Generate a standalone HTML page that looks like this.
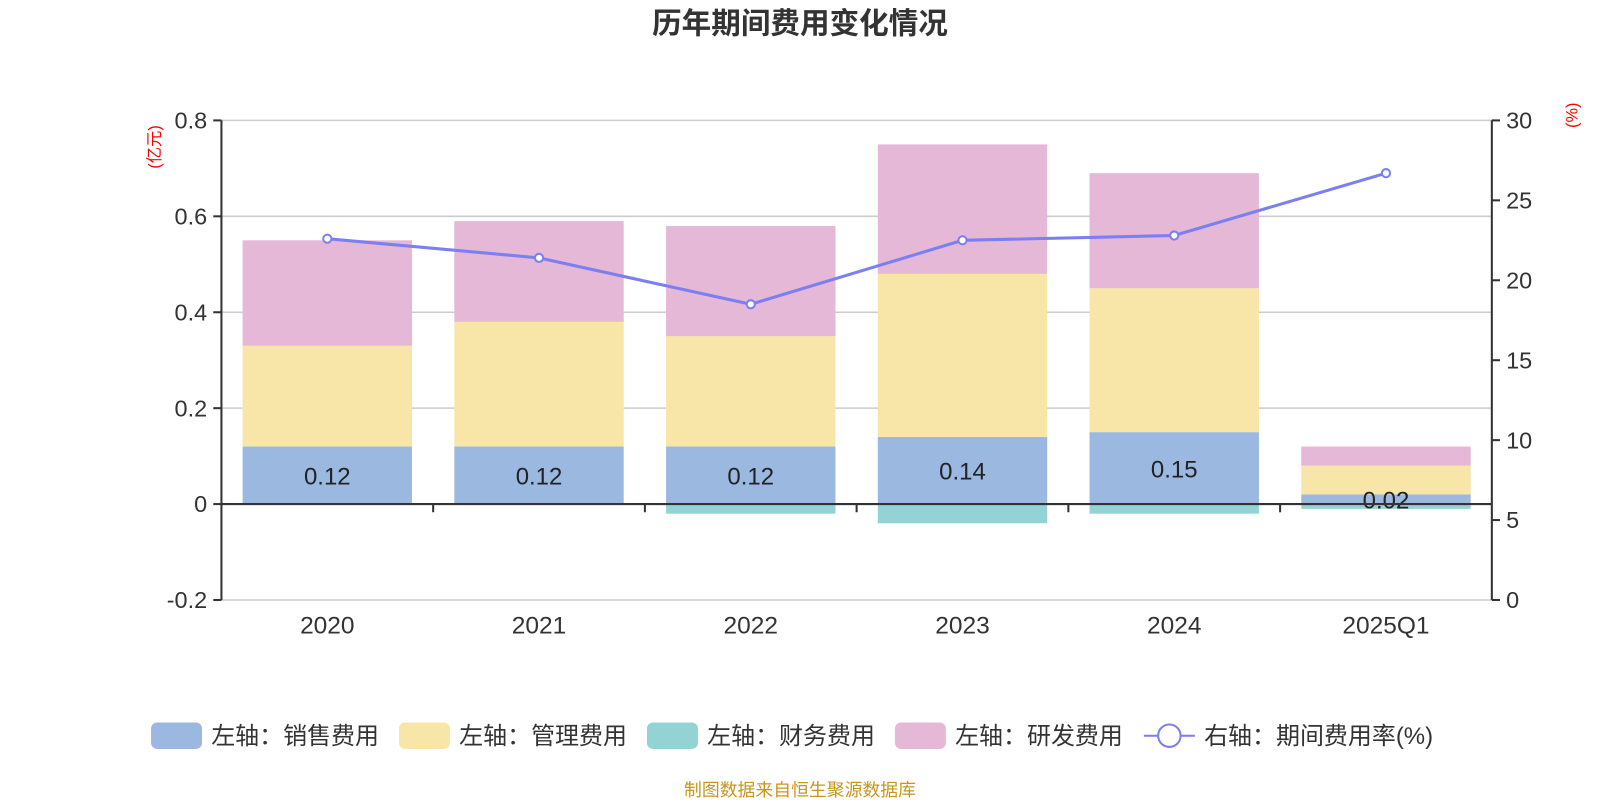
<!DOCTYPE html>
<html><head><meta charset="utf-8"><style>
body{margin:0;background:#fff;}
svg text{font-family:"Liberation Sans","Noto Sans CJK SC",sans-serif;}
</style></head><body>
<svg id="c" width="1600" height="800" viewBox="0 0 1568 784">
<text x="784" y="33" text-anchor="middle" font-size="29" font-weight="bold" fill="#333">历年期间费用变化情况</text>
<text transform="translate(157,144) rotate(-90)" text-anchor="middle" font-size="16" fill="#f00">(亿元)</text>
<text transform="translate(1546,113) rotate(-90)" text-anchor="middle" font-size="16" fill="#f00">(%)</text>
<g id="grid"></g><g id="bars"></g><g id="axes"></g><g id="line"></g>
<g id="legend" font-size="23.5" fill="#333">
<rect x="148" y="708" width="50" height="26" rx="6" fill="#9bb8e0"/>
<text x="207" y="729">左轴：销售费用</text>
<rect x="391" y="708" width="50" height="26" rx="6" fill="#f8e6a8"/>
<text x="450" y="729">左轴：管理费用</text>
<rect x="634" y="708" width="50" height="26" rx="6" fill="#94d3d3"/>
<text x="693" y="729">左轴：财务费用</text>
<rect x="877" y="708" width="50" height="26" rx="6" fill="#e6b8d8"/>
<text x="936" y="729">左轴：研发费用</text>
<line x1="1121" y1="721" x2="1171" y2="721" stroke="#7b7ff0" stroke-width="2"/>
<circle cx="1146" cy="721" r="11" fill="#fff" stroke="#7b7ff0" stroke-width="2"/>
<text x="1180" y="729">右轴：期间费用率(%)</text>
</g>
<text x="784" y="780" text-anchor="middle" font-size="17.5" fill="#c8961e">制图数据来自恒生聚源数据库</text>
</svg>
<script>
const categories=["2020","2021","2022","2023","2024","2025Q1"];
const sales=[0.12,0.12,0.12,0.14,0.15,0.02];
const admin=[0.21,0.26,0.23,0.34,0.30,0.06];
const finance=[0,0,-0.02,-0.04,-0.02,-0.01];
const rd=[0.22,0.21,0.23,0.27,0.24,0.04];
const rate=[22.6,21.4,18.5,22.5,22.8,26.7];
const leftTicks=[-0.2,0,0.2,0.4,0.6,0.8];
const rightTicks=[0,5,10,15,20,25,30];
const NS="http://www.w3.org/2000/svg";
const X0=217,X1=1462,band=(X1-X0)/categories.length,bw=166;
const yL=v=>494-v*470;
const yR=v=>588-v*(470/30);
const xC=i=>X0+band*(i+0.5);
function mk(t,a,p,txt){const e=document.createElementNS(NS,t);for(const k in a)e.setAttribute(k,a[k]);if(txt!==undefined)e.textContent=txt;document.getElementById(p).appendChild(e);return e;}
leftTicks.forEach(v=>{
 const g=mk('line',{x1:X0,x2:X1,y1:yL(v),y2:yL(v),stroke:'#ccc','stroke-width':1.5},'grid');
 
 
 const tk=mk('line',{x1:X0-8,x2:X0,y1:yL(v),y2:yL(v),stroke:'#333','stroke-width':2},'axes');
 
 
 const t=mk('text',{x:X0-14,y:yL(v)+8,'text-anchor':'end','font-size':23,fill:'#333'},'axes',v===0?'0':String(v));
 
 
});
rightTicks.forEach(v=>{
 const tk=mk('line',{x1:X1,x2:X1+8,y1:yR(v),y2:yR(v),stroke:'#333','stroke-width':2},'axes');
 
 
 const t=mk('text',{x:X1+14,y:yR(v)+8,'font-size':23,fill:'#333'},'axes',String(v));
 
 
});
categories.forEach((c,i)=>{
 const x=xC(i)-bw/2;
 let top=0;
 [[sales,'#9bb8e0','bar-sales'],[admin,'#f8e6a8','bar-admin'],[rd,'#e6b8d8','bar-rd']].forEach(([arr,col,n])=>{
  const r=mk('rect',{x:x,width:bw,y:yL(top+arr[i]),height:yL(top)-yL(top+arr[i]),fill:col},'bars');
  
  
  top+=arr[i];
 });
 if(finance[i]<0){
  const r=mk('rect',{x:x,width:bw,y:yL(0),height:yL(finance[i])-yL(0),fill:'#94d3d3'},'bars');
  
  
 }
 const lb=mk('text',{x:xC(i),y:(yL(0)+yL(sales[i]))/2+9,'text-anchor':'middle','font-size':23.5,fill:'#222'},'bars',sales[i].toFixed(2));
 
 
 const xl=mk('text',{x:xC(i),y:621,'text-anchor':'middle','font-size':24,fill:'#333'},'axes',c);
 
 
 if(i>0){const t=mk('line',{x1:X0+band*i,x2:X0+band*i,y1:494,y2:502,stroke:'#333','stroke-width':2},'axes');
 
 }
});
let a=mk('line',{x1:X0,x2:X1,y1:494,y2:494,stroke:'#333','stroke-width':2},'axes');


a=mk('line',{x1:X0,x2:X0,y1:118,y2:588,stroke:'#333','stroke-width':2},'axes');


a=mk('line',{x1:X1,x2:X1,y1:118,y2:588,stroke:'#333','stroke-width':2},'axes');


const pl=mk('polyline',{points:rate.map((v,i)=>xC(i)+','+yR(v)).join(' '),fill:'none',stroke:'#7b7ff0','stroke-width':3},'line');


rate.forEach((v,i)=>{
 const p=mk('circle',{cx:xC(i),cy:yR(v),r:4,fill:'#fff',stroke:'#7b7ff0','stroke-width':2},'line');
 
 
});
</script>
</body></html>
